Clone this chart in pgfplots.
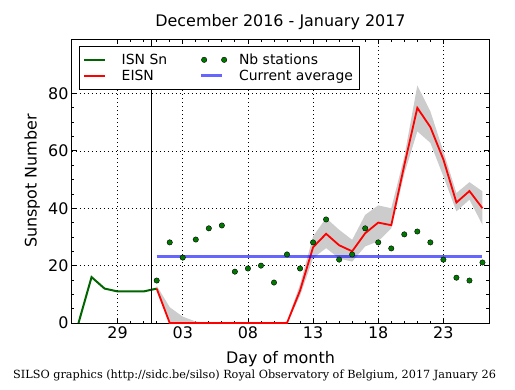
\documentclass[border=0pt]{standalone}
\usepackage{fontspec}
\setmainfont{DejaVu Sans}
\newfontfamily\seriffont{DejaVu Serif}
\usepackage{pgfplots}
\pgfplotsset{compat=1.18}
\definecolor{isngreen}{RGB}{0,100,0}
\definecolor{dotgreen}{RGB}{0,120,0}
\definecolor{bandgray}{RGB}{204,204,204}
\begin{document}
\begin{tikzpicture}[x=1bp,y=1bp]
\begin{axis}[
  name=ax, at={(0,0)}, anchor=south west,
  scale only axis, width=417bp, height=284bp,
  xmin=25.5, xmax=57.5, ymin=0, ymax=99,
  xtick={29,34,39,44,49,54}, xticklabels={29,03,08,13,18,23},
  minor x tick num=4,
  ytick={0,20,40,60,80}, minor y tick num=3,
  tick align=inside, tick pos=both,
  major tick length=5bp, minor tick length=2.5bp,
  every tick/.style={black, line width=0.8bp},
  grid=major,
  major grid style={black, line width=0.6bp, dash pattern=on 1bp off 3bp},
  axis line style={line width=1bp},
  /pgf/number format/assume math mode=true,
  tick label style={font=\fontsize{16}{16}\selectfont},
  label style={font=\fontsize{16}{16}\selectfont},
  title={December 2016 - January 2017},
  title style={font=\fontsize{16}{16}\selectfont, at={(axis description cs:0.5,1)}, anchor=base, yshift=7bp},
  xlabel={Day of month},
  xlabel style={at={(axis description cs:0.5,0)}, anchor=base, yshift=-40bp},
  ylabel={Sunspot Number},
  ylabel style={at={(axis description cs:-0.0851,0.5)}, anchor=base, rotate=0},
  legend columns=2,
  legend cell align=left,
  legend style={at={(axis description cs:0.0168,0.975)}, anchor=north west,
    draw=black, font=\fontsize{14}{16}\selectfont,
    inner xsep=4bp, inner ysep=5.5bp, row sep=0bp,
    nodes={inner xsep=2.5bp},
    /tikz/every odd column/.append style={column sep=13bp},
    /tikz/every even column/.append style={column sep=30bp}},
  legend image code/.code={\draw[#1] (0bp,0bp) -- (21bp,0bp);},
]
% legend entries
\addlegendimage{draw=isngreen, line width=2bp}
\addlegendentry{ISN Sn}
\addlegendimage{legend image code/.code={\path[overlay, fill=dotgreen, draw=black, line width=0.4bp] (3bp,0bp) circle (2.7bp) (23bp,0bp) circle (2.7bp); \path (0bp,0bp) (15bp,0bp);}}
\addlegendentry{Nb stations}
\addlegendimage{draw=red, line width=1.8bp}
\addlegendentry{EISN}
\addlegendimage{draw=blue, draw opacity=0.6, line width=2.8bp}
\addlegendentry{Current average}

% uncertainty band (upper then lower reversed)
\addplot[fill=bandgray, draw=none, forget plot] coordinates {
 (32,13) (33,5.5) (34,2.2) (35,0.5) (36,0) (37,0) (38,0) (39,0) (40,0) (41,0) (42,0.5)
 (43,13.5) (44,30.2) (45,36.6) (46,32.5) (47,29) (48,37.7) (49,41) (50,40)
 (51,58) (52,82.8) (53,73.8) (54,59.8) (55,45.3) (56,49.1) (57,45.9)
 (57,34.2) (56,43.0) (55,38.9) (54,51.1) (53,62.8) (52,66.8) (51,52)
 (50,33) (49,28.5) (48,26.7) (47,21.4) (46,22.5) (45,26.1) (44,22.6) (43,9.5)
 (42,0) (41,0) (40,0) (39,0) (38,0) (37,0) (36,0) (35,0) (34,0) (33,0) (32,11)
};

% ISN Sn (green line)
\addplot[isngreen, line width=2bp, forget plot] coordinates {
 (26,0) (27,16) (28,12) (29,11) (30,11) (31,11) (32,12)
};

% vertical separator
\addplot[black, line width=1bp, forget plot] coordinates {(31.6,0) (31.6,99)};

% Nb stations (dots)
\addplot[only marks, mark=*, mark size=2.7bp, mark options={fill=dotgreen, draw=black, line width=0.4bp}, forget plot] coordinates {
 (32,14.8) (33,28.1) (34,22.8) (35,29.1) (36,33.0) (37,34.0) (38,17.9) (39,19.0)
 (40,20.0) (41,14.1) (42,23.9) (43,19.0) (44,28.1) (45,36.1) (46,22.1) (47,23.9)
 (48,33.0) (49,28.1) (50,26.0) (51,30.9) (52,31.9) (53,28.1) (54,22.1) (55,15.8)
 (56,14.8) (57,21.1)
};

% EISN (red line)
\addplot[red, line width=1.8bp, forget plot] coordinates {
 (32,12) (33,0) (34,0) (35,0) (36,0) (37,0) (38,0) (39,0) (40,0) (41,0) (42,0)
 (43,11.3) (44,26.4) (45,31.1) (46,27.1) (47,25.0) (48,31.3) (49,35.0) (50,34.1)
 (51,55) (52,75.0) (53,68.3) (54,57) (55,42.0) (56,46.0) (57,40.0)
};

% current average
\addplot[blue, opacity=0.6, line width=2.8bp, forget plot] coordinates {(32,23.3) (57,23.3)};
\end{axis}
\node[anchor=west, font=\seriffont\fontsize{11.3}{13}\selectfont, inner sep=0pt] at (-59bp,-52bp)
 {SILSO graphics (http://sidc.be/silso) Royal Observatory of Belgium, 2017 January 26};
\pgfresetboundingbox
\path (-72bp,-67bp) rectangle (443bp,323bp);
\end{tikzpicture}
\end{document}
